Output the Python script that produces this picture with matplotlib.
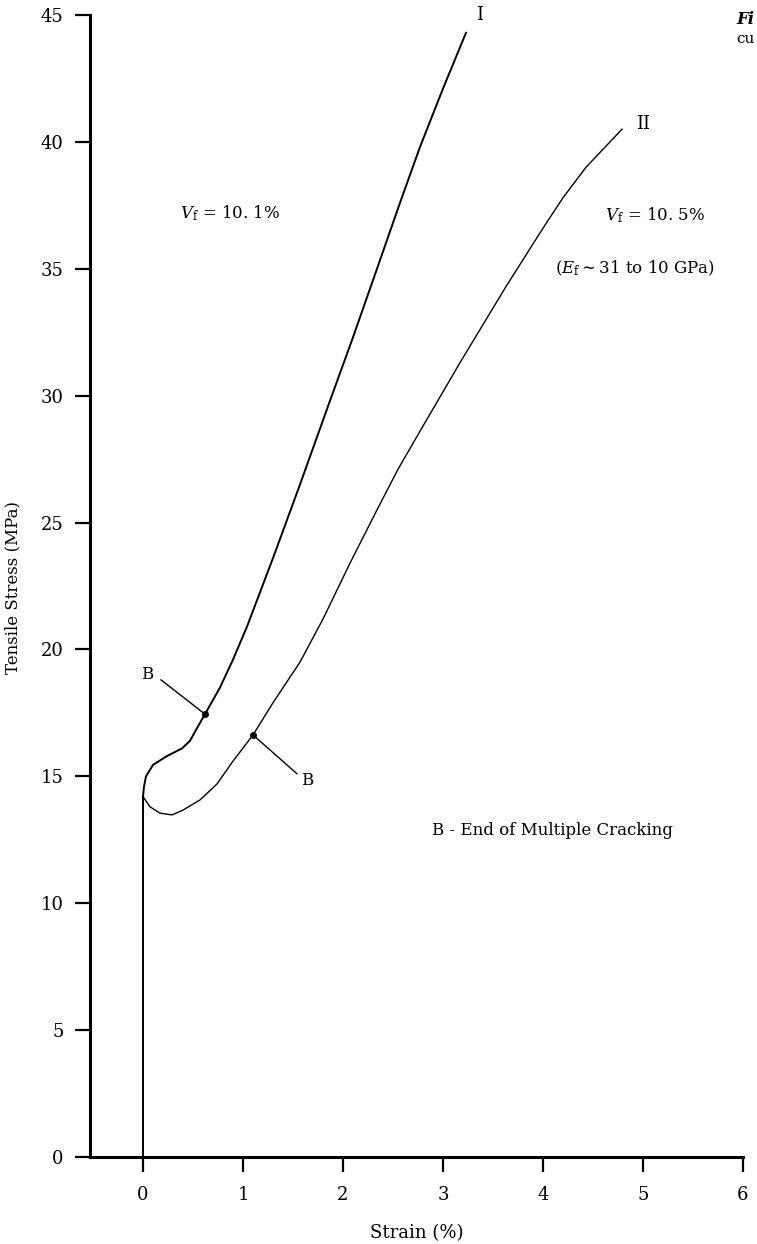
import matplotlib.pyplot as plt

# curve I (Vf = 10.1%)
strain_1 = [0, 0, 0.01, 0.03, 0.10, 0.24, 0.39, 0.47, 0.54, 0.62, 0.77, 0.90, 1.04,
            1.30, 1.57, 1.87, 2.10, 2.34, 2.57, 2.77, 3.00, 3.23]
stress_1 = [0, 14.2, 14.6, 15.0, 15.45, 15.8, 16.1, 16.4, 16.9, 17.45, 18.5, 19.6, 20.9,
            23.6, 26.5, 29.8, 32.3, 35.0, 37.6, 39.8, 42.1, 44.3]

# curve II (Vf = 10.5%)
strain_2 = [0, 0.07, 0.17, 0.29, 0.40, 0.57, 0.74, 0.90, 1.10, 1.30, 1.57, 1.80, 2.07,
            2.34, 2.55, 2.77, 3.17, 3.63, 4.00, 4.20, 4.43, 4.79]
stress_2 = [14.2, 13.8, 13.55, 13.48, 13.67, 14.07, 14.7, 15.6, 16.63, 17.9, 19.5, 21.2, 23.4,
            25.5, 27.1, 28.6, 31.3, 34.3, 36.6, 37.8, 39.0, 40.5]

# end of multiple cracking points
b_strain = [0.62, 1.10]
b_stress = [17.45, 16.63]

x_ticks = [0, 1, 2, 3, 4, 5, 6]
y_ticks = [0, 5, 10, 15, 20, 25, 30, 35, 40, 45]

plt.rcParams['font.family'] = ['DejaVu Serif']
plt.rcParams['mathtext.fontset'] = 'dejavuserif'

fig = plt.figure(figsize=(7.57, 12.44), dpi=100)
ax = fig.add_axes([90 / 757, 87 / 1244, 653 / 757, 1142 / 1244])

ax.plot(strain_1, stress_1, color='black', lw=1.4)
ax.plot(strain_2, stress_2, color='black', lw=1.0)
ax.plot(b_strain, b_stress, 'o', color='black', ms=4)

# leader lines for B
ax.plot([0.18, b_strain[0]], [18.8, b_stress[0]], color='black', lw=1.0)
ax.plot([b_strain[1], 1.54], [b_stress[1], 15.1], color='black', lw=1.0)
ax.text(0.04, 19.0, 'B', fontsize=12, ha='center', va='center')
ax.text(1.64, 14.85, 'B', fontsize=12, ha='center', va='center')

ax.text(3.33, 45.0, 'I', fontsize=13, ha='left', va='center')
ax.text(4.93, 40.7, 'II', fontsize=13, ha='left', va='center')

ax.text(0.37, 37.2, r'$V_{\rm f}$ = 10. 1%', fontsize=12, ha='left', va='center')
ax.text(4.62, 37.1, r'$V_{\rm f}$ = 10. 5%', fontsize=12, ha='left', va='center')
ax.text(4.12, 35.0, r'($E_{\rm f}$$\sim$31 to 10 GPa)', fontsize=12, ha='left', va='center')
ax.text(2.89, 12.88, 'B - End of Multiple Cracking', fontsize=12, ha='left', va='center')

ax.set_xlim(-0.53, 6.0)
ax.set_ylim(0, 45)
ax.set_xticks(x_ticks)
ax.set_yticks(y_ticks)
ax.tick_params(direction='out', length=11, width=1.6, labelsize=13)
ax.tick_params(axis='x', pad=10)
ax.tick_params(axis='y', pad=8)

for side in ['top', 'right']:
    ax.spines[side].set_visible(False)
for side in ['left', 'bottom']:
    ax.spines[side].set_linewidth(2.2)

ax.set_xlabel('Strain (%)', fontsize=13, labelpad=14)
ax.set_ylabel('Tensile Stress (MPa)', fontsize=12, labelpad=14)
ax.yaxis.set_label_coords(-0.105, (1157 - 587) / 1142)

# cropped caption at the top right edge
fig.text(755 / 757, 1 - 20 / 1244, 'Fi', fontsize=12, style='italic', weight='bold',
         ha='right', va='center')
fig.text(755 / 757, 1 - 39 / 1244, 'cu', fontsize=11, ha='right', va='center')

fig.savefig('out.png', dpi=100)
